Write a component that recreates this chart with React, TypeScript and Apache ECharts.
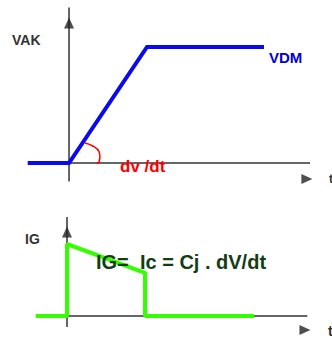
import React, { useEffect, useRef } from "react";
import * as echarts from "echarts";

// Top plot: anode-cathode voltage (VAK) vs time, VDM = 1
const vakT = [-0.53, 0, 1, 2.5];
const vakV = [0, 0, 1, 1];
// Bottom plot: gate current (IG) vs time
const igT = [-0.4, 0, 0, 1, 1, 2.4];
const igI = [0, 0, 1, 0.6, 0, 0];
// Axes (time axis and value axis extents)
const topAxisT = [0, 3.09];
const topAxisV = [-0.16, 1.34];
const botAxisT = [0, 3.08];
const botAxisI = [-0.153, 1.375];
// Arrow heads [t, value]
const topArrowUp = [0, 1.207];
const topArrowRight = [3.05, -0.138];
const botArrowUp = [0, 1.167];
const botArrowRight = [3.05, -0.194];

const AXIS = "#333333";

export default function App() {
  const ref = useRef<HTMLDivElement>(null);
  useEffect(() => {
    if (!ref.current) return;
    const chart = echarts.init(ref.current, undefined, { renderer: "svg" });
    const axisSeries = (xi: number, data: number[][]) => ({
      type: "line",
      xAxisIndex: xi,
      yAxisIndex: xi,
      data,
      symbol: "none",
      silent: true,
      lineStyle: { color: AXIS, width: 1.5 },
      z: 1,
    });
    const arrow = (xi: number, p: number[], rot: number) => ({
      type: "scatter",
      xAxisIndex: xi,
      yAxisIndex: xi,
      data: [p],
      symbol: "triangle",
      symbolSize: [10, 11],
      symbolRotate: rot,
      itemStyle: { color: "#222" },
      silent: true,
      z: 3,
    });
    chart.setOption({
      animation: false,
      backgroundColor: "#ffffff",
      grid: [
        { left: 0, right: 0, top: 0, height: 200 },
        { left: 0, right: 0, top: 200, height: 141 },
      ],
      xAxis: [
        { gridIndex: 0, type: "value", min: -0.885, max: 3.372, show: false },
        { gridIndex: 1, type: "value", min: -0.859, max: 3.397, show: false },
      ],
      yAxis: [
        { gridIndex: 0, type: "value", min: -0.319, max: 1.405, show: false },
        { gridIndex: 1, type: "value", min: -0.347, max: 1.611, show: false },
      ],
      series: [
        axisSeries(0, [[topAxisT[0], 0], [topAxisT[1], 0]]),
        axisSeries(0, [[0, topAxisV[0]], [0, topAxisV[1]]]),
        axisSeries(1, [[botAxisT[0], 0], [botAxisT[1], 0]]),
        axisSeries(1, [[0, botAxisI[0]], [0, botAxisI[1]]]),
        arrow(0, topArrowUp, 0),
        arrow(0, topArrowRight, -90),
        arrow(1, botArrowUp, 0),
        arrow(1, botArrowRight, -90),
        {
          type: "line",
          xAxisIndex: 0,
          yAxisIndex: 0,
          data: vakT.map((t, i) => [t, vakV[i]]),
          symbol: "none",
          lineStyle: { color: "#0a0aee", width: 4, join: "miter" },
          z: 2,
        },
        {
          type: "line",
          xAxisIndex: 1,
          yAxisIndex: 1,
          data: igT.map((t, i) => [t, igI[i]]),
          symbol: "none",
          lineStyle: { color: "#33ff00", width: 4 },
          z: 2,
        },
      ],
      graphic: [
        {
          type: "polyline",
          shape: {
            points: [[85, 143], [92.7, 146], [99, 151.5], [99.3, 161.5], [96.5, 163.5]],
            smooth: 0.4,
          },
          style: { stroke: "#ff0000", lineWidth: 1.5, fill: null },
          z: 10,
        },
        {
          type: "text", left: 12, top: 33,
          style: { text: "VAK", fill: "#333", font: "bold 14px Arial, 'Liberation Sans', sans-serif" },
          z: 10,
        },
        {
          type: "text", left: 269, top: 50,
          style: { text: "VDM", fill: "#0000dd", font: "bold 15px Arial, 'Liberation Sans', sans-serif" },
          z: 10,
        },
        {
          type: "text", left: 120, top: 158,
          style: { text: "dv /dt", fill: "#ff0000", font: "bold 17px Arial, 'Liberation Sans', sans-serif" },
          z: 10,
        },
        {
          type: "text", left: 329, top: 173,
          style: { text: "t", fill: "#333", font: "bold 12px Arial, 'Liberation Sans', sans-serif" },
          z: 10,
        },
        {
          type: "text", left: 25, top: 232,
          style: { text: "IG", fill: "#333", font: "bold 14px Arial, 'Liberation Sans', sans-serif" },
          z: 10,
        },
        {
          type: "text", left: 96, top: 252,
          style: { text: "IG=  Ic = Cj . dV/dt", fill: "#143d14", font: "bold 20px Arial, 'Liberation Sans', sans-serif" },
          z: 10,
        },
        {
          type: "text", left: 328, top: 324,
          style: { text: "t", fill: "#333", font: "bold 14px Arial, 'Liberation Sans', sans-serif" },
          z: 10,
        },
      ],
    });
    return () => chart.dispose();
  }, []);
  return (
    <div
      ref={ref}
      style={{ position: "fixed", left: 0, top: 0, width: 332, height: 341, background: "#fff" }}
    />
  );
}
